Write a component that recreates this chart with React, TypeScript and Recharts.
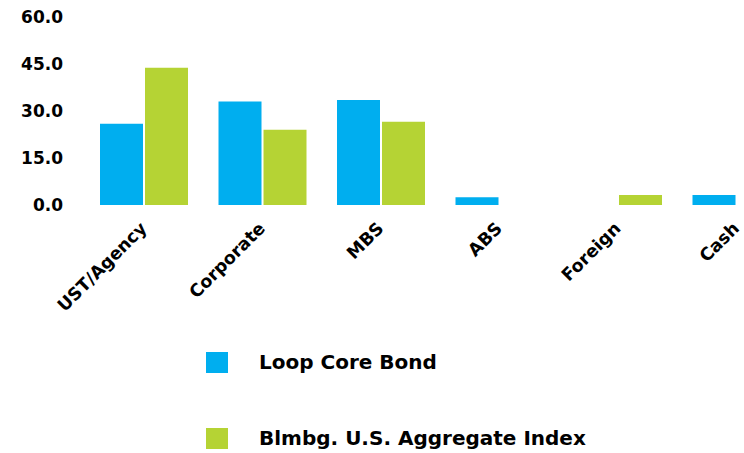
import React from "react";
import { BarChart, Bar, XAxis, YAxis, Legend } from "recharts";

const categories = ["UST/Agency", "Corporate", "MBS", "ABS", "Foreign", "Cash"];
const loopCoreBond = [25.9, 33.0, 33.5, 2.5, 0, 3.2];
const aggregateIndex = [43.8, 24.0, 26.6, 0, 3.2, 0];
const yTicks = [0, 15, 30, 45, 60];
const seriesNames = ["Loop Core Bond", "Blmbg. U.S. Aggregate Index"];

const BLUE = "#00AEEF";
const GREEN = "#B5D334";
const FONT = "'DejaVu Sans', sans-serif";

const data = categories.map((name, i) => ({
  name,
  loop: loopCoreBond[i],
  agg: aggregateIndex[i],
}));

const XTick = (props: any) => {
  const { x, y, payload } = props;
  return (
    <g transform={`translate(${x - 5},${y + 8})`}>
      <text
        textAnchor="end"
        transform="rotate(-45)"
        fontFamily={FONT}
        fontWeight={700}
        fontSize={17.5}
        fill="#000"
        dy={12}
      >
        {payload.value}
      </text>
    </g>
  );
};

const LegendContent = (props: any) => {
  const items = [...(props.payload || [])].sort(
    (a: any, b: any) => seriesNames.indexOf(a.value) - seriesNames.indexOf(b.value)
  );
  return (
    <div style={{ position: "relative", height: 0 }}>
      {items.map((p: any, i: number) => (
        <div
          key={p.value}
          style={{
            position: "absolute",
            left: 206,
            top: 350 + i * 76,
            display: "flex",
            alignItems: "center",
            whiteSpace: "nowrap",
          }}
        >
          <div style={{ width: 22, height: 21, background: p.color }} />
          <span
            style={{
              marginLeft: 31,
              fontFamily: FONT,
              fontWeight: 700,
              fontSize: 20,
              color: "#000",
            }}
          >
            {p.value}
          </span>
        </div>
      ))}
    </div>
  );
};

export default function App() {
  return (
    <div
      style={{
        position: "absolute",
        left: 0,
        top: 0,
        width: 744,
        height: 453,
        overflow: "hidden",
        background: "#fff",
      }}
    >
      <BarChart
        width={820}
        height={453}
        data={data}
        margin={{ top: 17, right: 24, bottom: 0, left: 0 }}
        barSize={43}
        barGap={2}
      >
        <YAxis
          domain={[0, 60]}
          ticks={yTicks}
          width={85}
          axisLine={false}
          tickLine={false}
          tickSize={0}
          tickMargin={22}
          tickFormatter={(v: number) => v.toFixed(1)}
          tick={{ fontFamily: FONT, fontWeight: 700, fontSize: 17, fill: "#000" }}
        />
        <XAxis
          dataKey="name"
          height={248}
          axisLine={false}
          tickLine={false}
          interval={0}
          tick={<XTick />}
        />
        <Legend
          content={<LegendContent />}
          wrapperStyle={{ position: "absolute", left: 0, top: 0, height: 0, width: 0 }}
        />
        <Bar dataKey="loop" name={seriesNames[0]} fill={BLUE} isAnimationActive={false} />
        <Bar dataKey="agg" name={seriesNames[1]} fill={GREEN} isAnimationActive={false} />
      </BarChart>
    </div>
  );
}
